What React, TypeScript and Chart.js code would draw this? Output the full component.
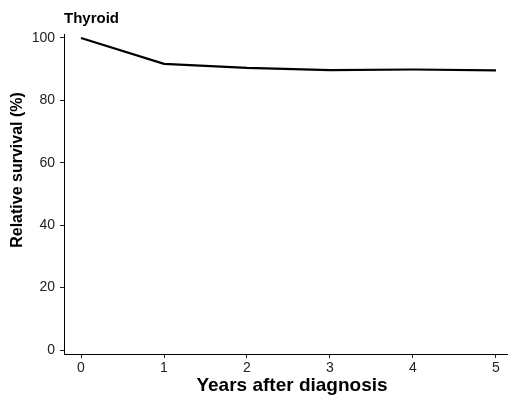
import React, { useEffect, useRef } from "react";
import { Chart, registerables } from "chart.js";

Chart.register(...registerables);

const years = [0, 1, 2, 3, 4, 5];
const survival = [100, 91.7, 90.4, 89.7, 89.9, 89.6];
const yTicks = [0, 20, 40, 60, 80, 100];
const xTicks = [0, 1, 2, 3, 4, 5];
const panelTitle = "Thyroid";
const xTitle = "Years after diagnosis";
const yTitle = "Relative survival (%)";

const FONT = "'Liberation Sans', Arial, sans-serif";

// Panel heading plus both axis titles, drawn as canvas text
const labelsPlugin = {
  id: "panelLabels",
  afterDraw(chart: any) {
    const { ctx, chartArea } = chart;
    ctx.save();
    ctx.fillStyle = "#000";

    ctx.font = `bold 15px ${FONT}`;
    ctx.textAlign = "left";
    ctx.textBaseline = "alphabetic";
    ctx.fillText(panelTitle, chartArea.left, 22.5);

    ctx.font = `bold 19px ${FONT}`;
    ctx.textAlign = "center";
    ctx.fillText(xTitle, 292, 391);

    ctx.translate(18, 170);
    ctx.rotate(-Math.PI / 2);
    ctx.font = `bold 16px ${FONT}`;
    ctx.textAlign = "center";
    ctx.textBaseline = "middle";
    ctx.fillText(yTitle, 0, 0);
    ctx.restore();
  },
};

export default function App() {
  const ref = useRef<HTMLCanvasElement>(null);

  useEffect(() => {
    if (!ref.current) return;
    const chart = new Chart(ref.current, {
      type: "line",
      data: {
        datasets: [
          {
            data: years.map((x, i) => ({ x, y: survival[i] })),
            borderColor: "#000",
            borderWidth: 2.2,
            pointRadius: 0,
            tension: 0,
            borderCapStyle: "butt",
            borderJoinStyle: "miter",
          },
        ],
      },
      options: {
        animation: false,
        responsive: false,
        devicePixelRatio: 1,
        layout: { padding: { top: 34, right: 1, left: 0, bottom: 0 } },
        plugins: {
          legend: { display: false },
          tooltip: { enabled: false },
        },
        scales: {
          x: {
            type: "linear",
            min: -0.205,
            max: 5.133,
            afterBuildTicks: (s: any) => {
              s.ticks = xTicks.map((v) => ({ value: v }));
            },
            afterFit: (s: any) => {
              s.height = 47;
            },
            grid: {
              display: true,
              drawOnChartArea: false,
              drawTicks: true,
              tickLength: 4,
              color: "#222",
            },
            border: { display: true, color: "#000", width: 1 },
            ticks: {
              padding: 2,
              color: "#222",
              font: { family: FONT, size: 14 },
              maxRotation: 0,
            },
          },
          y: {
            type: "linear",
            min: -1.28,
            max: 101.28,
            afterBuildTicks: (s: any) => {
              s.ticks = yTicks.map((v) => ({ value: v }));
            },
            afterFit: (s: any) => {
              s.width = 64;
            },
            grid: {
              display: true,
              drawOnChartArea: false,
              drawTicks: true,
              tickLength: 4,
              color: "#222",
            },
            border: { display: true, color: "#000", width: 1 },
            ticks: {
              padding: 5,
              color: "#222",
              font: { family: FONT, size: 14 },
            },
          },
        },
      },
      plugins: [labelsPlugin],
    } as any);
    return () => chart.destroy();
  }, []);

  return (
    <div style={{ position: "fixed", left: 0, top: 0, width: 508, height: 401, background: "#fff" }}>
      <canvas ref={ref} width={508} height={401} style={{ display: "block" }} />
    </div>
  );
}
